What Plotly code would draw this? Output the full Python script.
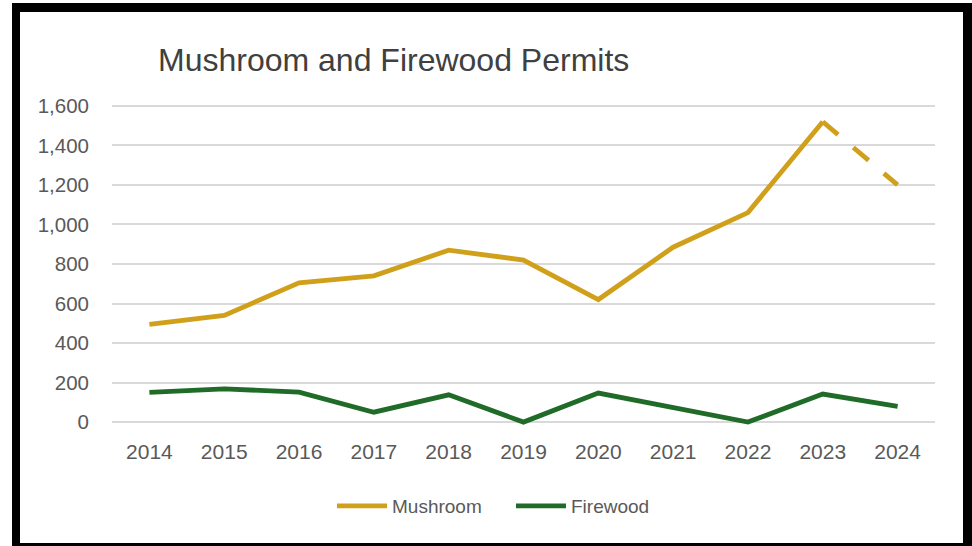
import plotly.graph_objects as go

# ---- data ----
years = [2014, 2015, 2016, 2017, 2018, 2019, 2020, 2021, 2022, 2023, 2024]
mushroom = [495, 540, 705, 740, 870, 820, 620, 885, 1060, 1520, 1200]
firewood = [150, 168, 152, 50, 138, 0, 147, 75, 0, 142, 80]
y_ticks = [0, 200, 400, 600, 800, 1000, 1200, 1400, 1600]
y_tick_labels = ["0", "200", "400", "600", "800", "1,000", "1,200", "1,400", "1,600"]
n_actual = 10  # mushroom values through 2023 are actual; 2024 is projected (dashed)

GOLD = "#D1A01B"
GREEN = "#1F6B27"
W, H = 972, 546
ML, MR, MT, MB = 112, 37, 98, 116

def px_x(p):
    return (p - ML) / (W - ML - MR)

def px_y(p):
    return (H - MB - p) / (H - MT - MB)

fig = go.Figure()
fig.add_trace(go.Scatter(
    x=years[:n_actual], y=mushroom[:n_actual], mode="lines", name="Mushroom",
    line=dict(color=GOLD, width=4.8)))
fig.add_trace(go.Scatter(
    x=years[n_actual - 1:], y=mushroom[n_actual - 1:], mode="lines", name="Mushroom (projected)",
    line=dict(color=GOLD, width=4.8, dash="20px,20px"), showlegend=False))
fig.add_trace(go.Scatter(
    x=years, y=firewood, mode="lines", name="Firewood",
    line=dict(color=GREEN, width=4.8)))

shapes = []
# black frame of the screenshot
for (x0, x1, y0, y1) in [(12, 972, 3, 12), (12, 20, 3, 546), (963, 972, 3, 546), (12, 972, 543, 546)]:
    shapes.append(dict(type="rect", xref="paper", yref="paper",
                       x0=px_x(x0), x1=px_x(x1), y0=px_y(y1), y1=px_y(y0),
                       fillcolor="black", line=dict(width=0), layer="above"))

fig.update_layout(
    width=W, height=H,
    margin=dict(l=ML, r=MR, t=MT, b=MB),
    paper_bgcolor="white", plot_bgcolor="white",
    font=dict(family="Liberation Sans, Arial, sans-serif", color="#595959"),
    title=dict(text="Mushroom and Firewood Permits", x=px_x(158), xref="paper", xanchor="left",
               y=1 - 60 / H, yref="container", yanchor="middle",
               font=dict(size=32, color="#404040", family="Liberation Sans, Arial, sans-serif")),
    xaxis=dict(range=[2013.5, 2024.5], tickmode="array", tickvals=years,
               ticktext=[str(y) for y in years], showgrid=False, zeroline=False,
               showline=False, ticks="", ticklabelstandoff=7,
               tickfont=dict(size=21, color="#595959")),
    yaxis=dict(range=[-40, 1640], tickmode="array", tickvals=y_ticks, ticktext=y_tick_labels,
               showgrid=True, gridcolor="#D9D9D9", gridwidth=1.5, zeroline=False,
               showline=False, ticks="", ticklabelstandoff=22,
               tickfont=dict(size=20.5, color="#595959")),
    legend=dict(orientation="h", x=px_x(332), xanchor="left", y=px_y(506), yanchor="middle",
                font=dict(size=19, color="#595959"), itemwidth=50, traceorder="normal",
                entrywidth=114, entrywidthmode="pixels"),
    shapes=shapes,
    showlegend=True,
)

fig.write_html("out.html", config={"displayModeBar": False},
               post_script="document.body.style.margin='0';document.body.style.overflow='hidden';")
